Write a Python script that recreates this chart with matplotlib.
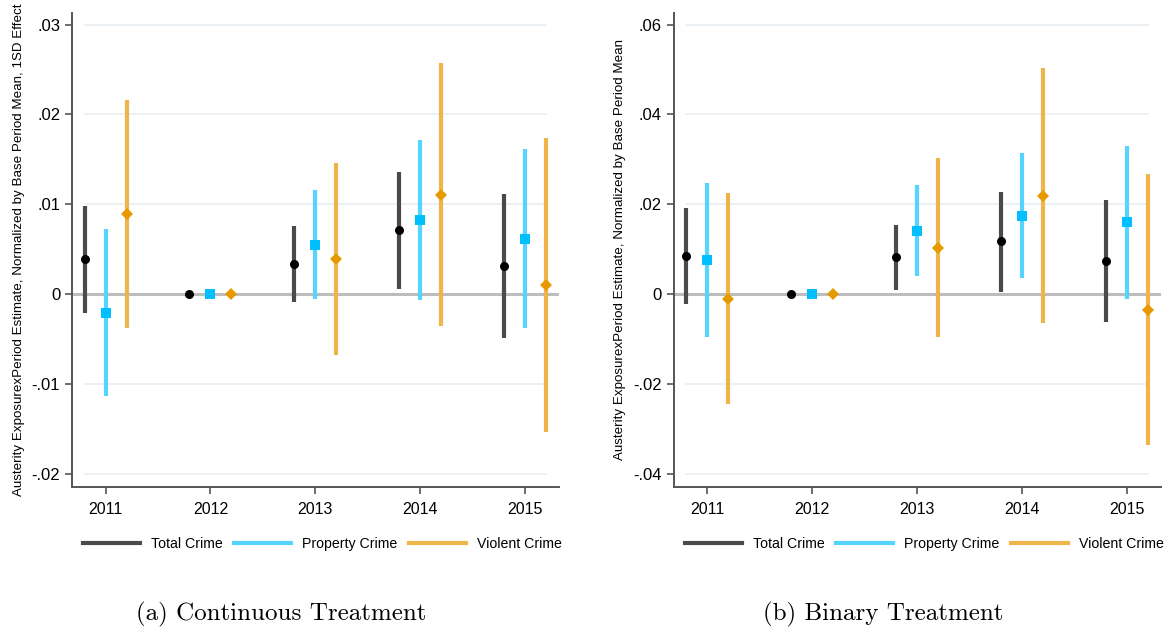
import numpy as np
import matplotlib.pyplot as plt
from matplotlib.lines import Line2D

plt.rcParams['font.family'] = ['Liberation Sans', 'DejaVu Sans']

years = [2011, 2012, 2013, 2014, 2015]
series = ['Total Crime', 'Property Crime', 'Violent Crime']

# (a) continuous treatment: estimate, lower CI, upper CI
cont_total = [0.00386, 0.0, 0.0033, 0.0071, 0.00312]
cont_total_lo = [-0.00208, 0.0, -0.00093, 0.00052, -0.0049]
cont_total_hi = [0.00983, 0.0, 0.00754, 0.01362, 0.01117]
cont_prop = [-0.00208, 0.0, 0.0055, 0.00824, 0.00616]
cont_prop_lo = [-0.01136, 0.0, -0.00056, -0.00063, -0.00382]
cont_prop_hi = [0.0072, 0.0, 0.01154, 0.01715, 0.01615]
cont_viol = [0.0089, 0.0, 0.0039, 0.01106, 0.00097]
cont_viol_lo = [-0.00375, 0.0, -0.0068, -0.00356, -0.01533]
cont_viol_hi = [0.0216, 0.0, 0.01455, 0.02569, 0.01737]

# (b) binary treatment
bin_total = [0.00846, 0.0, 0.00817, 0.01173, 0.00728]
bin_total_lo = [-0.00223, 0.0, 0.00089, 0.00052, -0.0063]
bin_total_hi = [0.01909, 0.0, 0.01537, 0.02279, 0.02087]
bin_prop = [0.00757, 0.0, 0.0141, 0.01737, 0.01596]
bin_prop_lo = [-0.00965, 0.0, 0.00394, 0.0035, -0.00104]
bin_prop_hi = [0.02472, 0.0, 0.0242, 0.03133, 0.03296]
bin_viol = [-0.00118, 0.0, 0.01031, 0.0219, -0.00356]
bin_viol_lo = [-0.02457, 0.0, -0.00965, -0.00646, -0.0337]
bin_viol_hi = [0.02243, 0.0, 0.0303, 0.05033, 0.02673]

cont_ticks = [-0.02, -0.01, 0, 0.01, 0.02, 0.03]
cont_labels = ['-.02', '-.01', '0', '.01', '.02', '.03']
bin_ticks = [-0.04, -0.02, 0, 0.02, 0.04, 0.06]
bin_labels = ['-.04', '-.02', '0', '.02', '.04', '.06']

offsets = [-0.2, 0.0, 0.2]
line_colors = ['#4a4a4a', '#55d4ff', '#f0b54a']
marker_colors = ['#000000', '#00bfff', '#e69a00']
markers = ['o', 's', 'D']
marker_sizes = [6.5, 6.5, 6.5]

spine_color = '#555555'
grid_color = '#e6eef1'


def draw_panel(ax, est, lo, hi, ticks, labels, ylim, ylabel, caption):
    x = np.array(years, dtype=float)
    # light horizontal gridlines, not reaching the axis edges
    for t in ticks:
        if t != 0:
            ax.plot([2010.8, 2015.2], [t, t], color=grid_color, lw=1.2, zorder=0)
    ax.axhline(0, color='#bdbdbd', lw=2.2, zorder=1)
    for i in range(3):
        xs = x + offsets[i]
        ax.vlines(xs, lo[i], hi[i], color=line_colors[i], lw=3.0, zorder=2)
        ax.plot(xs, est[i], linestyle='none', marker=markers[i],
                color=marker_colors[i], markersize=marker_sizes[i],
                markeredgewidth=0, zorder=3)
    ax.set_xlim(2010.68, 2015.32)
    ax.set_ylim(*ylim)
    ax.set_xticks(years)
    ax.set_xticklabels([str(y) for y in years], fontsize=11.5)
    ax.set_yticks(ticks)
    ax.set_yticklabels(labels, fontsize=12)
    for s in ['top', 'right']:
        ax.spines[s].set_visible(False)
    for s in ['left', 'bottom']:
        ax.spines[s].set_color(spine_color)
        ax.spines[s].set_linewidth(1.4)
    ax.tick_params(axis='both', colors=spine_color, width=1.2, length=5,
                   labelcolor='black')
    ax.tick_params(axis='x', pad=6)
    ax.set_ylabel(ylabel, fontsize=9.6, labelpad=5)

    handles = [Line2D([0], [0], color=line_colors[i], lw=3.0) for i in range(3)]
    ax.legend(handles, series, loc='upper center', bbox_to_anchor=(0.515, -0.08),
              ncol=3, frameon=False, fontsize=10.2, handlelength=4.0,
              columnspacing=0.8, handletextpad=0.8)
    ax.text(0.43, -0.269, caption, transform=ax.transAxes, ha='center',
            va='center', family='cmr10', fontsize=18)


fig = plt.figure(figsize=(11.71, 6.27), dpi=100)
ax1 = fig.add_axes([0.0615, 0.2238, 0.4156, 0.756])
ax2 = fig.add_axes([0.5753, 0.2238, 0.4159, 0.756])

draw_panel(ax1,
           [cont_total, cont_prop, cont_viol],
           [cont_total_lo, cont_prop_lo, cont_viol_lo],
           [cont_total_hi, cont_prop_hi, cont_viol_hi],
           cont_ticks, cont_labels, (-0.02146, 0.03133),
           'Austerity ExposurexPeriod Estimate, Normalized by Base Period Mean, 1SD Effect',
           '(a) Continuous Treatment')
draw_panel(ax2,
           [bin_total, bin_prop, bin_viol],
           [bin_total_lo, bin_prop_lo, bin_viol_lo],
           [bin_total_hi, bin_prop_hi, bin_viol_hi],
           bin_ticks, bin_labels, (-0.04292, 0.06266),
           'Austerity ExposurexPeriod Estimate, Normalized by Base Period Mean',
           '(b) Binary Treatment')

fig.savefig('out.png', dpi=100)
